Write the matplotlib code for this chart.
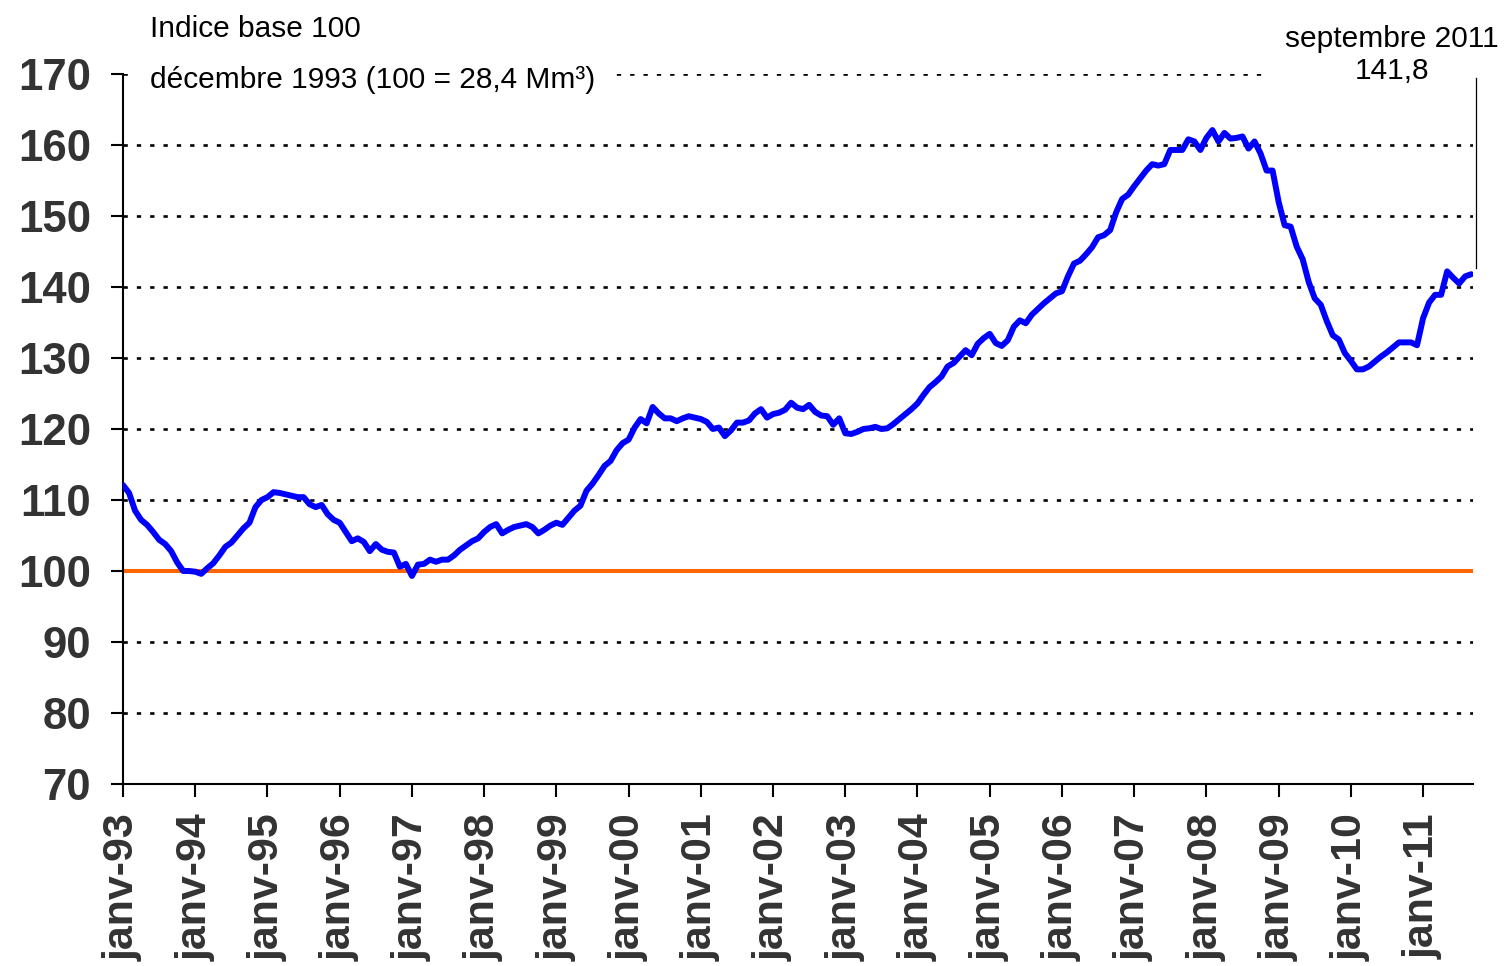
import matplotlib
matplotlib.use("Agg")
import matplotlib.pyplot as plt

plt.rcParams['font.family'] = ['Liberation Sans', 'DejaVu Sans']
plt.rcParams['lines.scale_dashes'] = False

# monthly index, janv-93 .. sept-2011 (base 100 = déc. 1993)
y1993 = [112.1, 111.0, 108.5, 107.2, 106.5, 105.5, 104.4, 103.8, 102.8, 101.2, 100.0, 100.0]
y1994 = [99.9, 99.6, 100.4, 101.1, 102.2, 103.4, 104.0, 105.0, 106.0, 106.8, 109.0, 110.0]
y1995 = [110.4, 111.1, 111.0, 110.8, 110.6, 110.4, 110.4, 109.4, 109.0, 109.3, 108.0, 107.2]
y1996 = [106.8, 105.5, 104.2, 104.6, 104.1, 102.8, 103.8, 103.0, 102.7, 102.6, 100.6, 101.0]
y1997 = [99.3, 100.9, 101.0, 101.6, 101.3, 101.6, 101.6, 102.2, 103.0, 103.6, 104.2, 104.6]
y1998 = [105.5, 106.2, 106.6, 105.3, 105.8, 106.2, 106.4, 106.6, 106.2, 105.3, 105.8, 106.4]
y1999 = [106.8, 106.5, 107.5, 108.5, 109.2, 111.3, 112.3, 113.5, 114.8, 115.5, 117.0, 118.0]
y2000 = [118.5, 120.2, 121.4, 120.8, 123.1, 122.2, 121.5, 121.5, 121.1, 121.5, 121.8, 121.6]
y2001 = [121.4, 121.0, 120.0, 120.2, 119.0, 119.8, 120.9, 120.9, 121.2, 122.2, 122.8, 121.6]
y2002 = [122.1, 122.3, 122.7, 123.7, 123.0, 122.8, 123.4, 122.4, 121.9, 121.8, 120.6, 121.5]
y2003 = [119.4, 119.3, 119.6, 120.0, 120.1, 120.3, 120.0, 120.1, 120.7, 121.4, 122.1, 122.8]
y2004 = [123.6, 124.8, 125.9, 126.6, 127.4, 128.8, 129.3, 130.2, 131.1, 130.4, 132.0, 132.8]
y2005 = [133.4, 132.1, 131.7, 132.5, 134.4, 135.3, 134.9, 136.1, 136.9, 137.7, 138.4, 139.1]
y2006 = [139.4, 141.5, 143.3, 143.7, 144.6, 145.6, 147.0, 147.3, 148.0, 150.5, 152.4, 153.0]
y2007 = [154.2, 155.3, 156.4, 157.3, 157.1, 157.3, 159.3, 159.3, 159.3, 160.8, 160.5, 159.3]
y2008 = [161.0, 162.1, 160.5, 161.7, 160.9, 161.0, 161.2, 159.5, 160.5, 158.8, 156.4, 156.4]
y2009 = [152.0, 148.7, 148.5, 145.7, 143.9, 140.7, 138.4, 137.5, 135.2, 133.2, 132.6, 130.7]
y2010 = [129.6, 128.4, 128.4, 128.8, 129.5, 130.2, 130.8, 131.5, 132.2, 132.2, 132.2, 131.8]
y2011 = [135.6, 137.8, 138.9, 138.9, 142.2, 141.3, 140.5, 141.5, 141.8]

values = (y1993 + y1994 + y1995 + y1996 + y1997 + y1998 + y1999 + y2000 + y2001
          + y2002 + y2003 + y2004 + y2005 + y2006 + y2007 + y2008 + y2009 + y2010 + y2011)
months = list(range(len(values)))

years = list(range(93, 100)) + list(range(0, 12))
tick_labels = ["janv-%02d" % y for y in years]
tick_pos = [12 * i for i in range(len(tick_labels))]

fig = plt.figure(figsize=(15.04, 9.66), dpi=100)
ax = fig.add_axes([0.0818, 0.1884, 0.8976, 0.735])

ax.axhline(100, color='#FF6600', linewidth=2.9, zorder=2)
ax.plot(months, values, color='#0000FF', linewidth=4.3, zorder=3,
        solid_joinstyle='round', solid_capstyle='round')

ax.set_xlim(0, 224.3)
ax.set_ylim(70, 170)
ax.set_yticks(range(70, 171, 10))
ax.set_xticks(tick_pos)
ax.set_xticklabels(tick_labels, rotation=90, fontsize=31, fontweight='bold', color='#333333')
for lab in ax.get_yticklabels():
    lab.set_fontsize(31.5)
    lab.set_fontweight('bold')
    lab.set_color('#333333')

ax.yaxis.grid(True, color='black', linestyle=(0, (3.1, 6.5)), linewidth=1.9)
ax.set_axisbelow(True)
ax.tick_params(axis='both', direction='out', length=9, width=1.5, color='black')
ax.tick_params(axis='x', pad=12)
ax.tick_params(axis='y', pad=14)

for s in ['top', 'right']:
    ax.spines[s].set_visible(False)
for s in ['left', 'bottom']:
    ax.spines[s].set_linewidth(1.5)
    ax.spines[s].set_color('black')

ax.text(0.02, 1.063, "Indice base 100", transform=ax.transAxes,
        ha='left', va='center', fontsize=21.5, zorder=1.1)
ax.text(0.02, 0.9915, "décembre 1993 (100 = 28,4 Mm³)", transform=ax.transAxes,
        ha='left', va='center', fontsize=21.5, zorder=1,
        bbox=dict(facecolor='white', edgecolor='none', pad=14))
ax.text(0.940, 1.027, "septembre 2011\n141,8", transform=ax.transAxes,
        ha='center', va='center', fontsize=21.5, linespacing=1.2, zorder=1,
        bbox=dict(facecolor='white', edgecolor='none', pad=11))
ax.plot([224.8, 224.8], [169.4, 142.7], color='black', linewidth=0.9, clip_on=False, zorder=5)

plt.savefig("out.png", dpi=100)
